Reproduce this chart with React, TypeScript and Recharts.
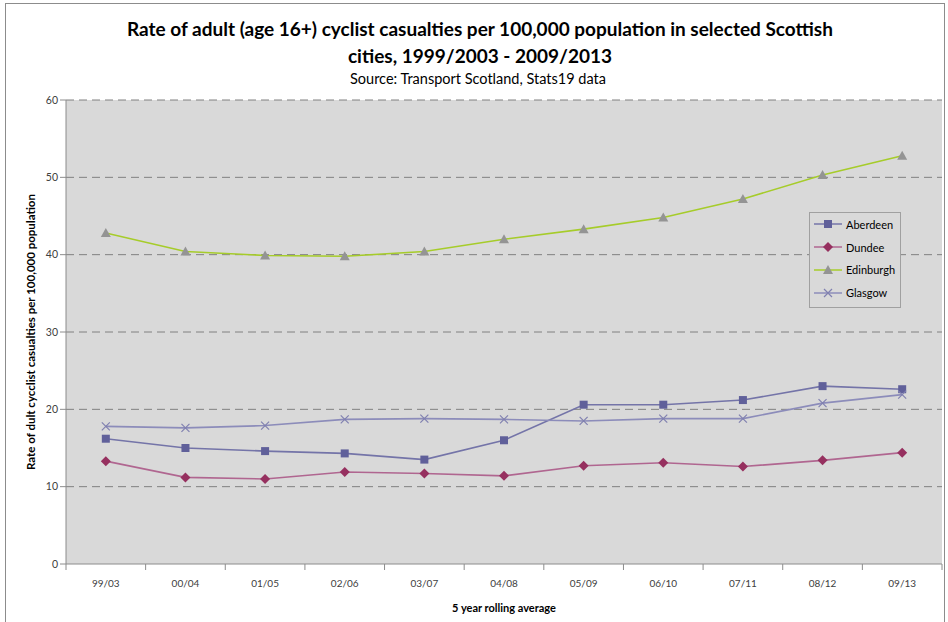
import React from "react";
import { CartesianGrid, Line, LineChart, XAxis, YAxis } from "recharts";

const PERIODS = ["99/03", "00/04", "01/05", "02/06", "03/07", "04/08", "05/09", "06/10", "07/11", "08/12", "09/13"];
const ABERDEEN = [16.2, 15.0, 14.6, 14.3, 13.5, 16.0, 20.6, 20.6, 21.2, 23.0, 22.6];
const DUNDEE = [13.3, 11.2, 11.0, 11.9, 11.7, 11.4, 12.7, 13.1, 12.6, 13.4, 14.4];
const EDINBURGH = [42.8, 40.4, 39.9, 39.8, 40.4, 42.0, 43.3, 44.8, 47.2, 50.3, 52.8];
const GLASGOW = [17.8, 17.6, 17.9, 18.7, 18.8, 18.7, 18.5, 18.8, 18.8, 20.8, 21.9];
const Y_TICKS = [0, 10, 20, 30, 40, 50, 60];

const W = 948;
const H = 622;
const PLOT_LEFT = 66;
const PLOT_RIGHT = 942;
const BAND = (PLOT_RIGHT - PLOT_LEFT) / PERIODS.length;
const FONT = "Lato, 'Open Sans', sans-serif";

const data = PERIODS.map((p, i) => ({
  period: p,
  Aberdeen: ABERDEEN[i],
  Dundee: DUNDEE[i],
  Edinburgh: EDINBURGH[i],
  Glasgow: GLASGOW[i],
}));

type Marker = "square" | "diamond" | "triangle" | "cross";

const SERIES: { key: string; line: string; marker: string; shape: Marker }[] = [
  { key: "Aberdeen", line: "#7474a8", marker: "#60609a", shape: "square" },
  { key: "Dundee", line: "#b06690", marker: "#96305f", shape: "diamond" },
  { key: "Edinburgh", line: "#a6cc2a", marker: "#949494", shape: "triangle" },
  { key: "Glasgow", line: "#8c8cba", marker: "#8080b0", shape: "cross" },
];

function drawMarker(shape: Marker, cx: number, cy: number, color: string, key?: string) {
  switch (shape) {
    case "square":
      return <rect key={key} x={cx - 4} y={cy - 4} width={8} height={8} fill={color} />;
    case "diamond":
      return (
        <path key={key} d={`M${cx},${cy - 5} L${cx + 5},${cy} L${cx},${cy + 5} L${cx - 5},${cy} Z`} fill={color} />
      );
    case "triangle":
      return (
        <path key={key} d={`M${cx},${cy - 5} L${cx + 5},${cy + 4} L${cx - 5},${cy + 4} Z`} fill={color} />
      );
    default:
      return (
        <path
          key={key}
          d={`M${cx - 4},${cy - 4} L${cx + 4},${cy + 4} M${cx - 4},${cy + 4} L${cx + 4},${cy - 4}`}
          stroke={color}
          strokeWidth={1.2}
          fill="none"
        />
      );
  }
}

function makeDot(shape: Marker, color: string) {
  return (props: any) => {
    const { cx, cy, index, dataKey } = props;
    if (cx == null || cy == null) return <g key={`${dataKey}-${index}`} />;
    return drawMarker(shape, cx, cy, color, `${dataKey}-${index}`);
  };
}

// category ticks sit between the bands, Excel style
function PeriodTick(props: any) {
  const { x, y, payload, index } = props;
  const left = x - BAND / 2;
  return (
    <g>
      <line x1={left} y1={y - 8} x2={left} y2={y - 2} stroke="#8c8c8c" />
      {index === PERIODS.length - 1 && (
        <line x1={left + BAND} y1={y - 8} x2={left + BAND} y2={y - 2} stroke="#8c8c8c" />
      )}
      <text x={x} y={y + 15} textAnchor="middle" fontSize={10} fill="#404040" fontFamily={FONT}>
        {payload.value}
      </text>
    </g>
  );
}

function LegendBox() {
  return (
    <div
      style={{
        position: "absolute",
        left: 809,
        top: 212,
        width: 92,
        height: 96,
        border: "1px solid #a0a0a0",
        background: "#d9d9d9",
        boxSizing: "border-box",
        padding: "0 0 0 4px",
        fontFamily: FONT,
        fontSize: 11,
        color: "#000",
      }}
    >
      {SERIES.map((s) => (
        <div key={s.key} style={{ display: "flex", alignItems: "center", height: 22.8 }}>
          <svg width={28} height={12} style={{ marginRight: 4 }}>
            <line x1={0} y1={6} x2={28} y2={6} stroke={s.line} strokeWidth={1.5} />
            {drawMarker(s.shape, 14, 6, s.marker)}
          </svg>
          <span>{s.key}</span>
        </div>
      ))}
    </div>
  );
}

export default function App() {
  return (
    <div style={{ position: "absolute", left: 0, top: 0, width: W, height: H, background: "#fff", fontFamily: FONT }}>
      <div
        style={{
          position: "absolute",
          left: 5,
          top: 3,
          width: W - 8,
          height: H,
          border: "1px solid #8c8c8c",
          boxSizing: "border-box",
        }}
      />
      <div
        style={{
          position: "absolute",
          left: 0,
          top: 15,
          width: W + 12,
          textAlign: "center",
          fontWeight: 700,
          fontSize: 19,
          lineHeight: "27px",
          color: "#000",
        }}
      >
        Rate of adult (age 16+) cyclist casualties per 100,000 population in selected Scottish
        <br />
        cities, 1999/2003 - 2009/2013
      </div>
      <div
        style={{
          position: "absolute",
          left: 0,
          top: 70,
          width: W + 8,
          textAlign: "center",
          fontSize: 14.5,
          color: "#000",
        }}
      >
        Source: Transport Scotland, Stats19 data
      </div>
      <div style={{ position: "absolute", left: 0, top: 0 }}>
        <LineChart width={W} height={H} data={data} margin={{ top: 100, right: W - PLOT_RIGHT, bottom: 18, left: 26 }}>
          <CartesianGrid
            vertical={false}
            fill="#d9d9d9"
            stroke="#808080"
            strokeDasharray="8 5"
            horizontalValues={Y_TICKS.slice(1)}
          />
          <XAxis
            dataKey="period"
            height={40}
            padding={{ left: BAND / 2, right: BAND / 2 }}
            axisLine={{ stroke: "#8c8c8c" }}
            tickLine={false}
            tick={<PeriodTick />}
            interval={0}
            label={{
              value: "5 year rolling average",
              position: "insideBottom",
              offset: -8,
              fontSize: 11,
              fontWeight: 700,
              fill: "#000",
              fontFamily: FONT,
            }}
          />
          <YAxis
            width={40}
            domain={[0, 60]}
            ticks={Y_TICKS}
            interval={0}
            axisLine={{ stroke: "#8c8c8c" }}
            tickLine={{ stroke: "#8c8c8c" }}
            tickSize={6}
            tick={{ fontSize: 10.5, fill: "#404040", fontFamily: FONT }}
            label={{
              value: "Rate of dult cycclist casualties per 100,000 population",
              angle: -90,
              position: "insideLeft",
              offset: 5,
              style: { textAnchor: "middle", fontSize: 11.5, fontWeight: 700, fill: "#000", fontFamily: FONT },
            }}
          />
          {SERIES.map((s) => (
            <Line
              key={s.key}
              type="linear"
              dataKey={s.key}
              stroke={s.line}
              strokeWidth={1.6}
              dot={makeDot(s.shape, s.marker)}
              activeDot={false}
              isAnimationActive={false}
            />
          ))}
        </LineChart>
      </div>
      <LegendBox />
    </div>
  );
}
